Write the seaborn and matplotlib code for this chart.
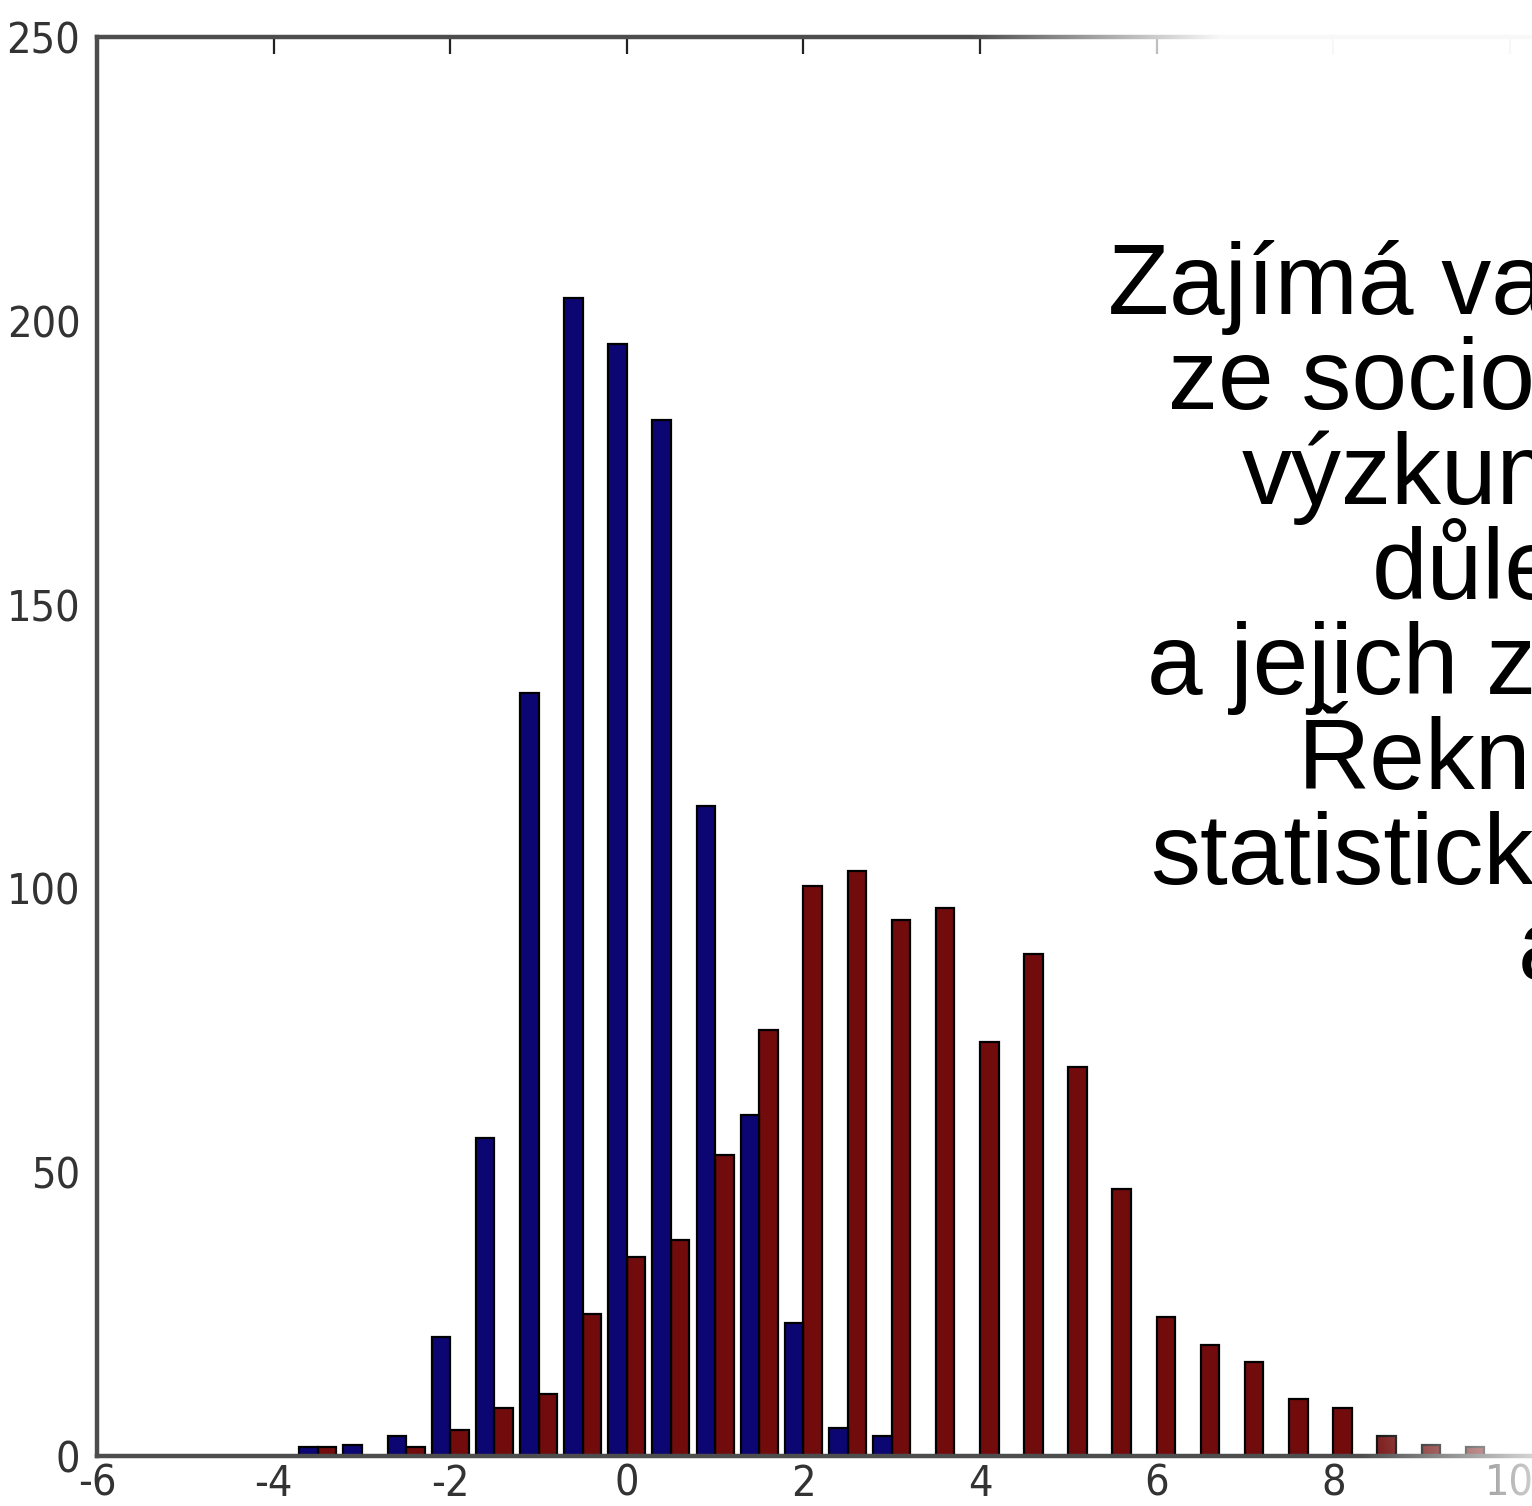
import seaborn as sns
import matplotlib.pyplot as plt
import pandas as pd
import numpy as np

# histogram bin centres (bin width 0.5) and the counts of both samples
bin_centers = [-3.5, -3.0, -2.5, -2.0, -1.5, -1.0, -0.5, 0.0, 0.5, 1.0, 1.5, 2.0, 2.5,
               3.0, 3.5, 4.0, 4.5, 5.0, 5.5, 6.0, 6.5, 7.0, 7.5, 8.0, 8.5, 9.0, 9.5]
blue_counts = [1.5, 2, 3.5, 21, 56, 134.5, 204, 196, 182.5, 114.5, 60, 23.5, 5,
               3.5, 0, 0, 0, 0, 0, 0, 0, 0, 0, 0, 0, 0, 0]
red_counts = [1.5, 0, 1.5, 4.5, 8.5, 11, 25, 35, 38, 53, 75, 100.5, 103,
              94.5, 96.5, 73, 88.5, 68.5, 47, 24.5, 19.5, 16.5, 10, 8.5, 3.5, 2, 1.5]

x_ticks = [-6, -4, -2, 0, 2, 4, 6, 8, 10]
y_ticks = [0, 50, 100, 150, 200, 250]

text_lines = ['Zajímá va', 'ze socio', 'výzkum', 'důle', 'a jejich z',
              'Řekn', 'statistick', 'a']
text_x = [1108, 1168, 1242, 1372, 1147, 1298, 1150, 1518]

df = pd.DataFrame({
    'x': bin_centers * 2,
    'n': blue_counts + red_counts,
    'serie': ['a'] * len(bin_centers) + ['b'] * len(bin_centers),
})

W, H = 1532, 1506
sns.set_style('white')
plt.rcParams['axes.unicode_minus'] = False
fig = plt.figure(figsize=(W / 100, H / 100), dpi=100)

# axes box in pixels: x=-6 at 97px, 88.3 px per unit, y from 1456 (0) to 37 (250)
px_unit = 88.3
ax = fig.add_axes([97 / W, 50 / H, 16.5 * px_unit / W, 1419 / H])

sns.histplot(data=df, x='x', weights='n', hue='serie', hue_order=['a', 'b'],
             binwidth=0.5, binrange=(bin_centers[0] - 0.25, bin_centers[-1] + 0.25),
             multiple='dodge', shrink=0.84, palette=['#0c0672', '#720c0c'],
             edgecolor='black', linewidth=1.6, alpha=1, legend=False, ax=ax)

ax.set_xlim(-6, 10.5)
ax.set_ylim(0, 250)
ax.set_xticks(x_ticks)
ax.set_yticks(y_ticks)
ax.set_xlabel('')
ax.set_ylabel('')
for s in ax.spines.values():
    s.set_visible(True)
    s.set_color('#4d4d4d')
    s.set_linewidth(3.2)
ax.tick_params(direction='in', length=12, width=1.6, color='#222222',
               top=True, right=True, labelsize=31, labelcolor='#333333')
ax.tick_params(axis='x', pad=5)
ax.tick_params(axis='y', pad=12)
for lab in ax.get_xticklabels() + ax.get_yticklabels():
    lab.set_family('DejaVu Sans')
    lab.set_stretch('condensed')

# white fade over the right side of the slide
ov = fig.add_axes([0, 0, 1, 1], zorder=1)
xx, yy = np.meshgrid(np.arange(W), np.arange(H))
t = np.clip((yy - 37) / 1419, 0, 1)
x0 = 970 + t * (1360 - 970)
w = 250 - t * 30
alpha = np.clip((xx - x0) / w, 0, 1) * 0.97
rgba = np.ones((H, W, 4))
rgba[..., 3] = alpha
ov.imshow(rgba, extent=[0, W, H, 0], aspect='auto', interpolation='bilinear')
ov.set_xlim(0, W)
ov.set_ylim(H, 0)
ov.axis('off')

for i, (s, x) in enumerate(zip(text_lines, text_x)):
    fig.text(x / W, 1 - (314 + 95 * i) / H, s, ha='left', va='baseline',
             fontsize=72, family=['Liberation Sans', 'DejaVu Sans'], color='black',
             zorder=5)

fig.savefig('out.png', dpi=100)
